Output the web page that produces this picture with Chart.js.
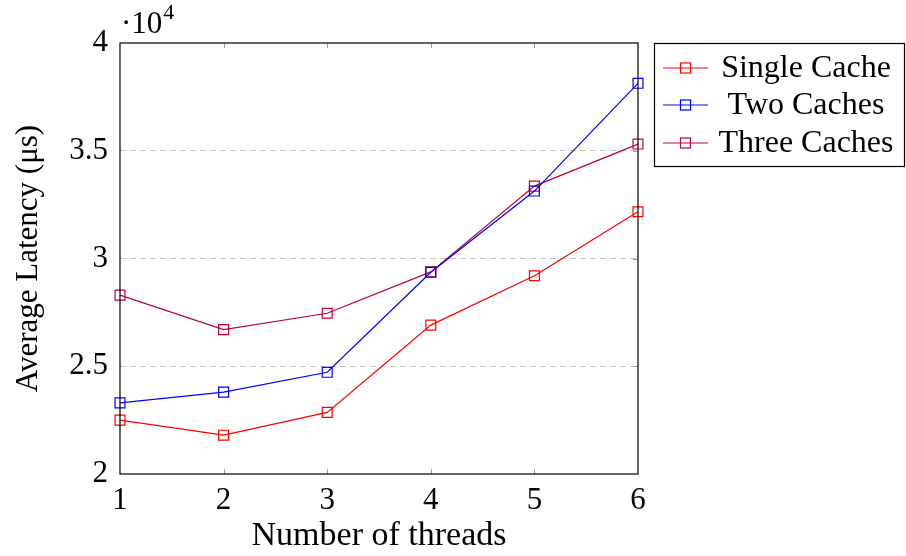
<!DOCTYPE html>
<html>
<head>
<meta charset="utf-8">
<script src="https://cdn.jsdelivr.net/npm/chart.js@4"></script>
<style>
  html, body { margin: 0; padding: 0; background: #fff; }
  #myChart { display: block; }
</style>
</head>
<body>
<canvas id="myChart" width="906" height="556"></canvas>
<script>
// data (latency in microseconds)
const threads = [1, 2, 3, 4, 5, 6];
const singleCache = [22500, 21800, 22860, 26910, 29200, 32170];
const twoCaches = [23300, 23800, 24720, 29360, 33130, 38130];
const threeCaches = [28300, 26700, 27460, 29380, 33360, 35310];
const yTicks = [20000, 25000, 30000, 35000, 40000];

const seriesNames = ['Single Cache', 'Two Caches', 'Three Caches'];
const seriesColors = ['#ff0000', '#0000ff', '#bf0040'];

const FONT = '"Liberation Serif", "DejaVu Serif", serif';
const FSIZE = 31;

// box round the plot, small inner ticks, the ·10^4 label and the legend
const framePlugin = {
  id: 'frame',
  afterDatasetsDraw(chart) {
    const c = chart.ctx;
    const a = chart.chartArea;
    const xs = chart.scales.x;
    const ys = chart.scales.y;
    c.save();
    c.strokeStyle = '#999';
    c.lineWidth = 1;
    c.beginPath();
    for (let i = 1; i < threads.length - 1; i++) {
      const px = Math.round(xs.getPixelForValue(i)) + 0.5;
      c.moveTo(px, a.bottom); c.lineTo(px, a.bottom - 5);
      c.moveTo(px, a.top); c.lineTo(px, a.top + 5);
    }
    yTicks.slice(1, -1).forEach((v) => {
      const py = Math.round(ys.getPixelForValue(v)) + 0.5;
      c.moveTo(a.right, py); c.lineTo(a.right - 5, py);
    });
    c.stroke();

    c.strokeStyle = '#000';
    c.lineWidth = 1.2;
    c.strokeRect(a.left, a.top, a.right - a.left, a.bottom - a.top);

    // scale label
    c.fillStyle = '#000';
    c.textBaseline = 'alphabetic';
    c.textAlign = 'left';
    c.font = FSIZE + 'px ' + FONT;
    c.fillText('\u00b710', 121, 33);
    const w = c.measureText('\u00b710').width;
    c.font = '22px ' + FONT;
    c.fillText('4', 121 + w + 1, 19);

    // legend
    const lx = 654.5, ly = 43.5, lw = 250, lh = 123;
    c.fillStyle = '#fff';
    c.fillRect(lx, ly, lw, lh);
    c.strokeStyle = '#000';
    c.lineWidth = 1.2;
    c.strokeRect(lx, ly, lw, lh);
    const rows = [68, 105, 143];
    chart.data.datasets.forEach((ds, i) => {
      const y = rows[i];
      c.strokeStyle = ds.borderColor;
      c.lineWidth = 1.2;
      c.beginPath();
      c.moveTo(663, y); c.lineTo(708, y);
      c.stroke();
      c.strokeRect(680.5, y - 5, 10, 10);
      c.fillStyle = '#000';
      c.font = '32px ' + FONT;
      c.textAlign = 'center';
      c.textBaseline = 'middle';
      c.fillText(ds.label, 806, y + 1);
    });
    c.restore();
  }
};

function makeChart() {
  const ctx = document.getElementById('myChart');
  const values = [singleCache, twoCaches, threeCaches];

  return new Chart(ctx, {
    type: 'line',
    data: {
      labels: threads,
      datasets: values.map((v, i) => ({
        label: seriesNames[i],
        data: v,
        borderColor: seriesColors[i],
        backgroundColor: 'rgba(0,0,0,0)',
        borderWidth: 1.2,
        pointStyle: 'rect',
        pointRadius: 7,
        pointBorderWidth: 1.2,
        pointBackgroundColor: 'rgba(0,0,0,0)',
        tension: 0
      }))
    },
    options: {
      responsive: false,
      animation: false,
      layout: { padding: { top: 43, right: 268, left: 0, bottom: 0 } },
      plugins: {
        legend: { display: false },
        tooltip: { enabled: false }
      },
      scales: {
        x: {
          offset: false,
          grid: { display: false, drawTicks: false },
          border: { display: false },
          ticks: {
            color: '#000',
            padding: 8,
            font: { family: FONT, size: FSIZE }
          },
          title: {
            display: true,
            text: 'Number of threads',
            color: '#000',
            padding: { top: 0, bottom: 0 },
            font: { family: FONT, size: 34 }
          },
          afterFit(scale) { scale.height = 82; }
        },
        y: {
          min: 20000,
          max: 40000,
          afterBuildTicks(scale) {
            scale.ticks = yTicks.map((v) => ({ value: v }));
          },
          grid: {
            drawTicks: false,
            color: (c) => (c.tick && c.tick.value > 20000 && c.tick.value < 40000) ? '#c4c4c4' : 'rgba(0,0,0,0)',
            lineWidth: 1
          },
          border: { display: false, dash: [6, 4] },
          ticks: {
            color: '#000',
            padding: 12,
            font: { family: FONT, size: FSIZE }
            ,
            callback: (v) => String(v / 10000)
          },
          title: {
            display: true,
            text: 'Average Latency (\u03bcs)',
            color: '#000',
            padding: { top: 10, bottom: 0 },
            font: { family: FONT, size: FSIZE }
          },
          afterFit(scale) { scale.width = 120; }
        }
      }
    },
    plugins: [framePlugin]
  });
}

document.addEventListener('DOMContentLoaded', () => makeChart());
</script>
</body>
</html>
